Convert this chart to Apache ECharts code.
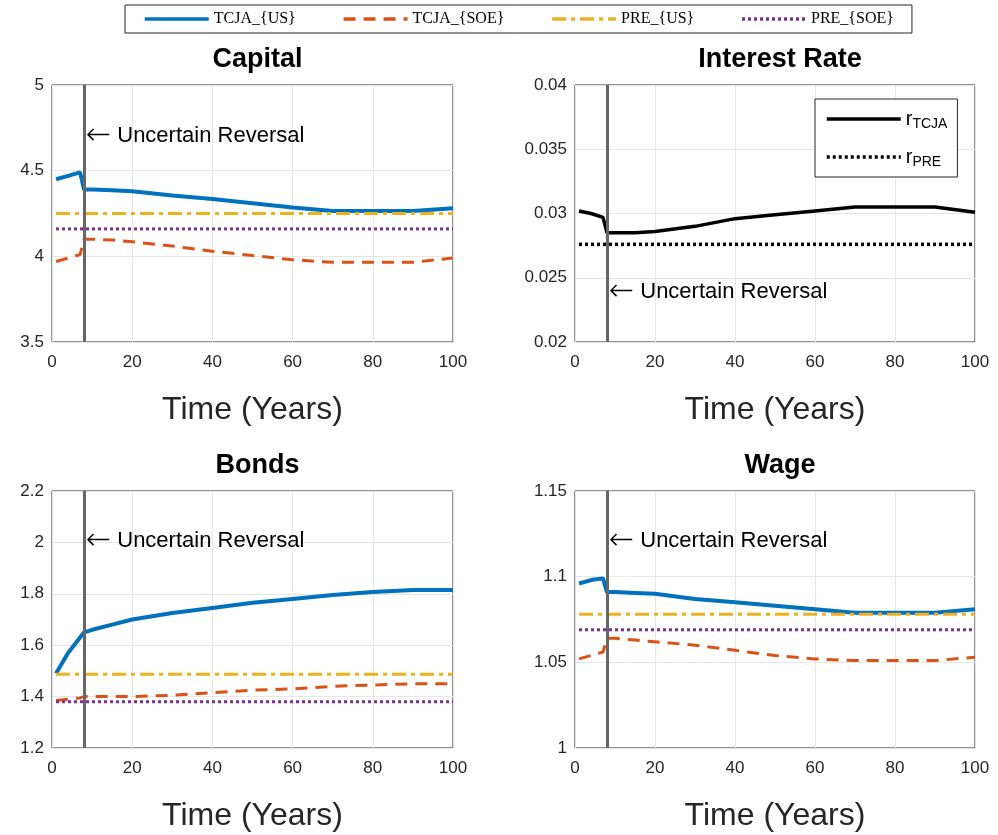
<!DOCTYPE html>
<html><head><meta charset="utf-8">
<script src="https://cdn.jsdelivr.net/npm/echarts@6/dist/echarts.min.js"></script>
<style>html,body{margin:0;background:#fff}#c{width:998px;height:835px}</style>
</head><body><div id="c"></div>
<script>
var tX = [1, 4, 7, 8, 10, 15, 20, 30, 40, 50, 60, 70, 80, 90, 100];
var capUS = [4.45, 4.47, 4.49, 4.39, 4.39, 4.385, 4.38, 4.355, 4.335, 4.31, 4.285, 4.265, 4.265, 4.265, 4.28];
var capSOE = [3.97, 3.99, 4.01, 4.10, 4.10, 4.095, 4.085, 4.06, 4.03, 4.005, 3.98, 3.965, 3.965, 3.965, 3.99];
var capPRE = [4.25, 4.16];
var rateTCJA = [0.0302, 0.0300, 0.0297, 0.0285, 0.0285, 0.0285, 0.0286, 0.0290, 0.0296, 0.0299, 0.0302, 0.0305, 0.0305, 0.0305, 0.0301];
var ratePRE = 0.0276;
var bondUS = [1.49, 1.57, 1.63, 1.65, 1.66, 1.68, 1.70, 1.725, 1.745, 1.765, 1.78, 1.795, 1.807, 1.815, 1.815];
var bondSOE = [1.385, 1.39, 1.395, 1.40, 1.40, 1.40, 1.40, 1.405, 1.415, 1.425, 1.43, 1.44, 1.445, 1.45, 1.45];
var bondPRE = [1.487, 1.38];
var wageUS = [1.096, 1.098, 1.099, 1.091, 1.091, 1.0905, 1.090, 1.087, 1.085, 1.083, 1.081, 1.079, 1.079, 1.079, 1.081];
var wageSOE = [1.052, 1.054, 1.056, 1.064, 1.064, 1.063, 1.062, 1.060, 1.057, 1.054, 1.052, 1.051, 1.051, 1.051, 1.053];
var wagePRE = [1.078, 1.069];
var reversalT = 8;

var C = {us: '#0072BD', soe: '#D95319', preUS: '#EDB120', preSOE: '#7E2F8E'};
var styles = {
  us: {color: C.us, width: 4, type: 'solid'},
  soe: {color: C.soe, width: 3, type: [12, 8]},
  preUS: {color: C.preUS, width: 3, type: [14, 5, 4, 5]},
  preSOE: {color: C.preSOE, width: 3, type: [3, 3]}
};
function pairs(ys) { return tX.map(function (x, i) { return [x, ys[i]]; }); }
function flat(v) { return [[1, v], [100, v]]; }

var grids = [
  {left: 52, top: 85, width: 401, height: 257},
  {left: 575, top: 85, width: 400, height: 257},
  {left: 52, top: 491, width: 401, height: 257},
  {left: 575, top: 491, width: 400, height: 257}
];
var yRanges = [[3.5, 5, 0.5, 1], [0.02, 0.04, 0.005, 3], [1.2, 2.2, 0.2, 1], [1, 1.15, 0.05, 2]];
var titles = ['Capital', 'Interest Rate', 'Bonds', 'Wage'];

var xAxes = [], yAxes = [], series = [];
grids.forEach(function (g, i) {
  g.show = true; g.borderColor = '#262626'; g.borderWidth = 1;
  xAxes.push({gridIndex: i, type: 'value', min: 0, max: 100, interval: 20,
    name: 'Time (Years)', nameLocation: 'middle', nameGap: 52,
    nameTextStyle: {fontSize: 32, color: '#262626', fontFamily: 'Liberation Sans'},
    axisLine: {show: false}, axisTick: {show: false},
    axisLabel: {fontSize: 17, color: '#262626', margin: 12},
    splitLine: {lineStyle: {color: '#e6e6e6'}}});
  var r = yRanges[i];
  yAxes.push({gridIndex: i, type: 'value', min: r[0], max: r[1], interval: r[2],
    axisLine: {show: false}, axisTick: {show: false},
    axisLabel: {fontSize: 17, color: '#262626', margin: 8, formatter: function (v) { return +v.toFixed(r[3]) + ''; }},
    splitLine: {lineStyle: {color: '#e6e6e6'}}});
});

function add(name, gi, data, st, extra) {
  var s = {name: name, type: 'line', xAxisIndex: gi, yAxisIndex: gi, data: data,
    showSymbol: false, symbol: 'none', lineStyle: st, itemStyle: {color: st.color}, z: 3};
  if (extra) s.markLine = extra;
  series.push(s);
}
var vline = {silent: true, symbol: 'none', label: {show: false},
  lineStyle: {color: '#666', width: 3, type: 'solid'}, data: [{xAxis: reversalT}]};

add('TCJA_{US}', 0, pairs(capUS), styles.us, vline);
add('TCJA_{SOE}', 0, pairs(capSOE), styles.soe);
add('PRE_{US}', 0, flat(capPRE[0]), styles.preUS);
add('PRE_{SOE}', 0, flat(capPRE[1]), styles.preSOE);

add('rTCJA', 1, pairs(rateTCJA), {color: '#000', width: 3.5, type: 'solid'}, vline);
add('rPRE', 1, flat(ratePRE), {color: '#000', width: 3.5, type: [3, 3]});

add('TCJA_{US}', 2, pairs(bondUS), styles.us, vline);
add('TCJA_{SOE}', 2, pairs(bondSOE), styles.soe);
add('PRE_{US}', 2, flat(bondPRE[0]), styles.preUS);
add('PRE_{SOE}', 2, flat(bondPRE[1]), styles.preSOE);

add('TCJA_{US}', 3, pairs(wageUS), styles.us, vline);
add('TCJA_{SOE}', 3, pairs(wageSOE), styles.soe);
add('PRE_{US}', 3, flat(wagePRE[0]), styles.preUS);
add('PRE_{SOE}', 3, flat(wagePRE[1]), styles.preSOE);

var titleOpts = titles.map(function (t, i) {
  return {text: t, left: grids[i].left + grids[i].width / 2, textAlign: 'center', top: grids[i].top - 44,
    textStyle: {fontSize: 27, fontWeight: 'bold', color: '#000', fontFamily: 'Liberation Sans'}};
});

var annot = [[86, 121], [609, 277], [86, 526], [609, 526]].map(function (p) {
  return {type: 'text', left: p[0], top: p[1], z: 10,
    style: {text: '{a|\u2190} Uncertain Reversal', fontSize: 22, fill: '#000', fontFamily: 'Liberation Sans',
      rich: {a: {fontSize: 30, fontFamily: 'DejaVu Sans', fontWeight: 100}}}};
});

var chart = echarts.init(document.getElementById('c'));
chart.setOption({
  animation: false,
  title: titleOpts,
  grid: grids, xAxis: xAxes, yAxis: yAxes, series: series,
  graphic: annot,
  legend: [
    {data: ['TCJA_{US}', 'TCJA_{SOE}', 'PRE_{US}', 'PRE_{SOE}'], top: 5, left: 125,
      itemWidth: 64, itemHeight: 14, itemGap: 46, padding: [6, 18],
      borderColor: '#262626', borderWidth: 1, itemStyle: {opacity: 0}, lineStyle: {width: 3.5},
      textStyle: {fontSize: 16, fontFamily: 'Liberation Serif', color: '#000'}},
    {data: ['rTCJA', 'rPRE'], orient: 'vertical', left: 815, top: 99,
      itemWidth: 74, itemGap: 16, padding: [10, 10, 8, 10], itemStyle: {opacity: 0}, lineStyle: {width: 3.5},
      borderColor: '#262626', borderWidth: 1, backgroundColor: '#fff',
      formatter: function (n) { return '{a|r}{b|' + n.slice(1) + '}'; },
      textStyle: {rich: {a: {fontSize: 20, color: '#000', fontFamily: 'Liberation Sans'}, b: {fontSize: 14, color: '#000', fontFamily: 'Liberation Sans', padding: [10, 0, 0, 0]}}}}
  ]
});
</script></body></html>
